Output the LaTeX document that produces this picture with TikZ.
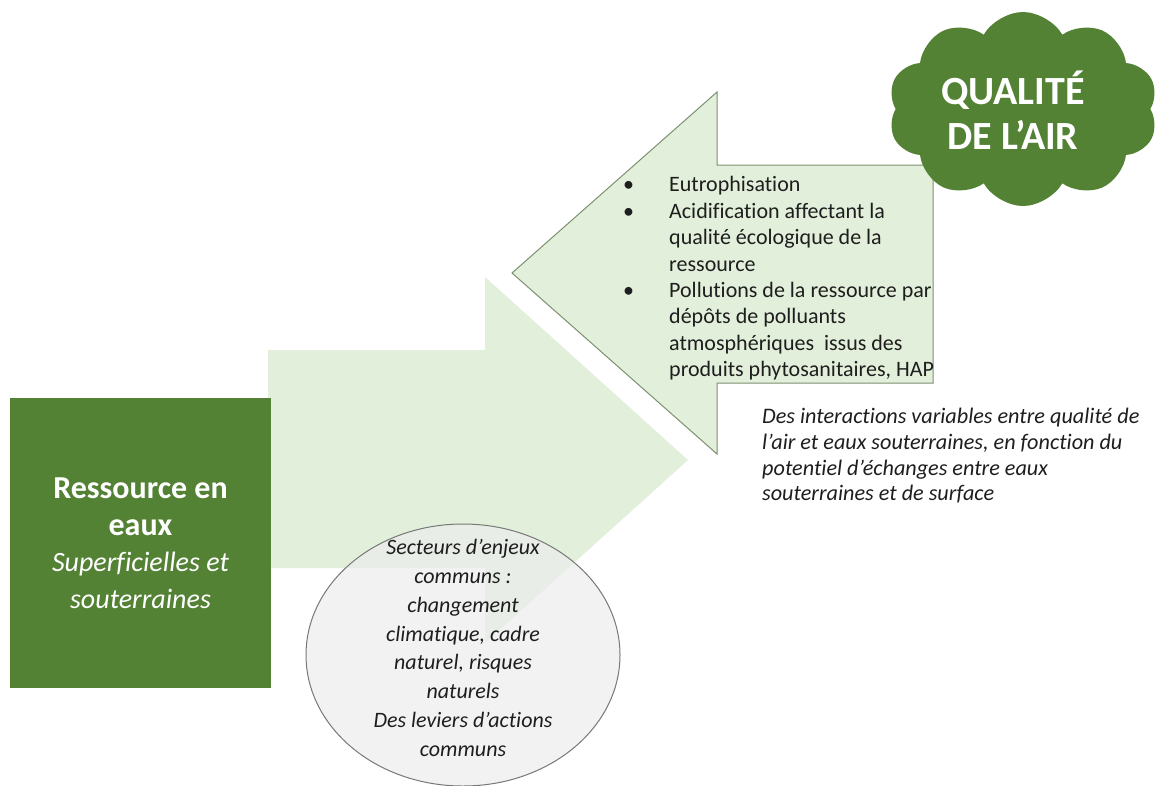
\documentclass[tikz,border=0pt]{standalone}
\usepackage{fontspec}
\setmainfont{Carlito}[Ligatures={NoCommon}]
\usetikzlibrary{shapes.symbols,shapes.geometric}
\definecolor{dkgreen}{HTML}{548235}
\definecolor{ltgreen}{HTML}{E2EFDA}
\definecolor{arrowline}{RGB}{125,145,112}
\definecolor{ellfill}{HTML}{EDEDED}
\definecolor{ellline}{RGB}{120,120,120}
\definecolor{txt}{RGB}{30,30,30}
\tikzset{
  bigarrow/.style={fill=ltgreen},
  bigarrowline/.style={fill=ltgreen, draw=arrowline, line width=1pt, line join=miter},
  greenbox/.style={fill=dkgreen, draw=none, minimum width=261pt, minimum height=290pt, inner sep=0pt,
     text=white, align=center, font=\fontsize{32}{36.5}\selectfont},
  cloudbox/.style={cloud, cloud puffs=10, cloud puff arc=120, aspect=1.4, fill=dkgreen, draw=none,
     minimum width=270pt, minimum height=194pt, inner sep=0pt},
  cloudtext/.style={text=white, align=center, font=\fontsize{40}{45}\selectfont\bfseries},
  listtext/.style={text=txt, align=left, inner sep=0pt, font=\fontsize{22}{26.4}\selectfont},
  notetext/.style={text=txt, align=left, inner sep=0pt, font=\fontsize{22.2}{25.7}\selectfont\itshape},
  ellbox/.style={ellipse, fill=ellfill, fill opacity=0.7, draw=ellline, line width=1pt,
     minimum width=314pt, minimum height=262pt, inner sep=0pt},
  elltext/.style={text=txt, align=center, inner sep=0pt, font=\fontsize{22}{28.8}\selectfont\itshape}
}
\begin{document}
\begin{tikzpicture}[x=1pt,y=-1pt]
\useasboundingbox[fill=white] (0,0) rectangle (1166,785);
% right-pointing arrow (water -> air)
\path[bigarrow] (268,350) -- (485,350) -- (485,277) -- (688,460) -- (485,643) -- (485,568) -- (268,568) -- cycle;
% left-pointing arrow (air -> water)
\path[bigarrowline] (933,165) -- (717,165) -- (717,92) -- (512,273) -- (717,454) -- (717,383) -- (933,383) -- cycle;
% water resource box
\node[greenbox] (eau) at (140.5,543) {\textbf{Ressource en}\\ \textbf{eaux}\\ {\fontsize{28}{36.5}\selectfont\itshape Superficielles et}\\ {\fontsize{28}{36.5}\selectfont\itshape souterraines}};
% cloud
\node[cloudbox] (air) at (1023,109) {};
\node[cloudtext] (airtxt) at (1013,110) {QUALITÉ\\DE L’AIR};
% bullet list
\node[listtext, anchor=west] (liste) at (623,279) {%
\begin{tabular}{@{}p{46pt}@{}l@{}}
\textbullet & Eutrophisation\\
\textbullet & Acidification affectant la\\
 & qualité écologique de la\\
 & ressource\\
\textbullet & Pollutions de la ressource par\\
 & dépôts de polluants\\
 & atmosphériques\ \ issus des\\
 & produits phytosanitaires, HAP
\end{tabular}};
% note
\node[notetext, anchor=west] (note) at (762,456) {Des interactions variables entre qualité de\\ l’air et eaux souterraines, en fonction du\\ potentiel d’échanges entre eaux\\ souterraines et de surface};
% common issues ellipse
\node[ellbox] (commun) at (463,655) {};
\node[elltext] (communtxt) at (463,648) {Secteurs d’enjeux\\ communs :\\ changement\\ climatique, cadre\\ naturel, risques\\ naturels\\ Des leviers d’actions\\ communs};
\end{tikzpicture}
\end{document}
